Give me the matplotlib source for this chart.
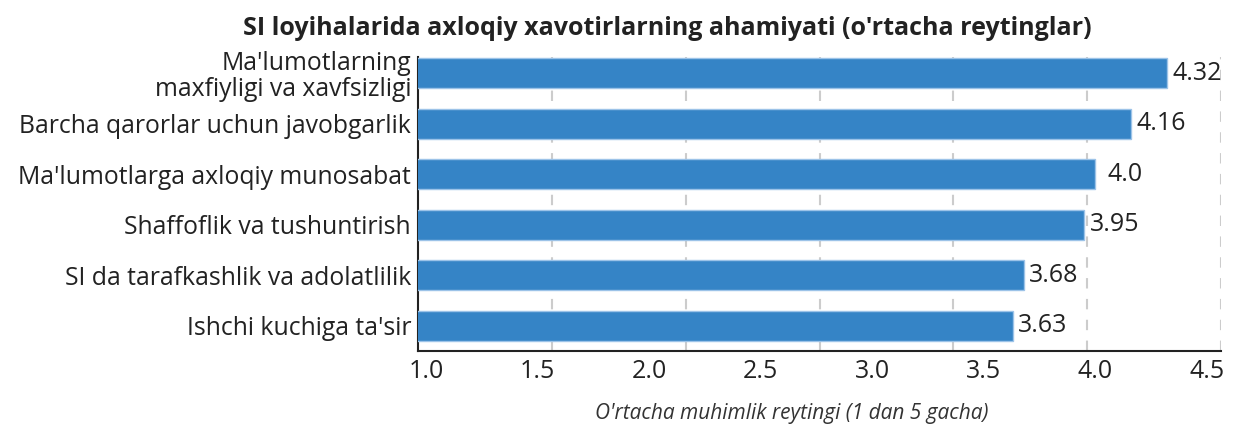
import numpy as np
import matplotlib
matplotlib.use("Agg")
import matplotlib.pyplot as plt
from matplotlib.ticker import FixedLocator

# data
categories = [
    "Ma'lumotlarning\nmaxfiyligi va xavfsizligi",
    "Barcha qarorlar uchun javobgarlik",
    "Ma'lumotlarga axloqiy munosabat",
    "Shaffoflik va tushuntirish",
    "SI da tarafkashlik va adolatlilik",
    "Ishchi kuchiga ta'sir",
]
ratings = [4.32, 4.16, 4.0, 3.95, 3.68, 3.63]
rating_labels = ["4.32", "4.16", "4.0", "3.95", "3.68", "3.63"]
x_ticks = [1.0, 1.5, 2.0, 2.5, 3.0, 3.5, 4.0, 4.5]

title = "SI loyihalarida axloqiy xavotirlarning ahamiyati (o'rtacha reytinglar)"
xlabel = "O'rtacha muhimlik reytingi (1 dan 5 gacha)"

plt.rcParams['font.family'] = ['Open Sans', 'DejaVu Sans']
text_color = '#222222'
bar_color = '#3584c6'

fig = plt.figure(figsize=(12.35, 4.28), dpi=100)
ax = fig.add_axes([0.3385, 0.1799, 0.6502, 0.6869])

ypos = np.arange(len(categories))[::-1]
ax.barh(ypos, ratings, height=0.59, color=bar_color,
        edgecolor='#9cc3e8', linewidth=1.0, zorder=3)

x0, x1 = 0.965, 4.563
ax.set_xlim(x0, x1)
ax.set_ylim(-0.5, 5.32)

# value labels
for y, v, lab in zip(ypos, ratings, rating_labels):
    ax.text(v + 0.135, y, lab, ha='center', va='center',
            fontsize=18, color=text_color, zorder=4)

ax.set_yticks(ypos)
ax.set_yticklabels(categories, fontsize=17.8, color=text_color,
                   multialignment='right', linespacing=1.05)
ax.set_xticks(x_ticks)
ax.set_xticklabels([f"{t:.1f}" for t in x_ticks], fontsize=18,
                   color=text_color)
ax.tick_params(axis='y', length=0, pad=5)
ax.tick_params(axis='x', length=0, pad=6)

# grid lines split the axis evenly
ax.xaxis.set_minor_locator(FixedLocator(np.linspace(x0, x1, 7)[1:]))
ax.grid(False)
ax.grid(True, which='minor', axis='x', color='#cccccc',
        linestyle=(0, (5, 5)), linewidth=1.5, zorder=0)
ax.tick_params(axis='x', which='minor', length=0)

for s in ['top', 'right']:
    ax.spines[s].set_visible(False)
for s in ['left', 'bottom']:
    ax.spines[s].set_color('#222222')
    ax.spines[s].set_linewidth(1.5)

fig.text(667.5 / 1235, 0.934, title, ha='center', va='center',
         fontsize=18, fontweight='bold', color=text_color)
fig.text(792 / 1235, 0.035, xlabel, ha='center', va='center',
         fontsize=15, style='italic', color='#333333')

fig.savefig('out.png', dpi=100)
